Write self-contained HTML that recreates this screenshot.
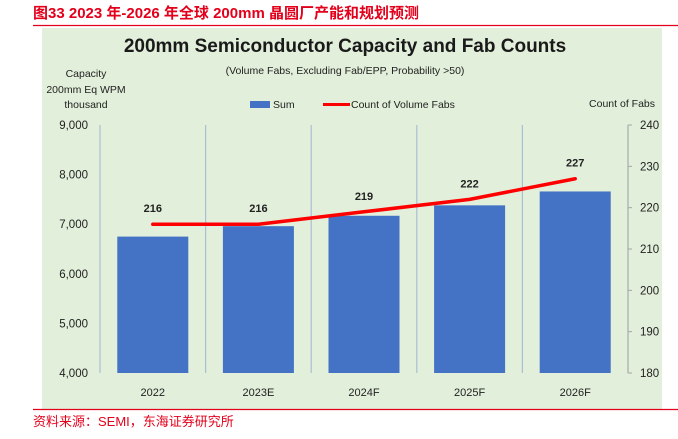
<!DOCTYPE html>
<html><head><meta charset="utf-8"><style>
body{margin:0;width:678px;height:434px;background:#fff;overflow:hidden;font-family:"Liberation Sans","Noto Sans CJK SC",sans-serif}
</style></head><body>
<svg width="678" height="434" xmlns="http://www.w3.org/2000/svg" font-family="Liberation Sans, Noto Sans CJK SC, sans-serif">
<text x="33" y="18" font-size="15" font-weight="bold" fill="#e3001b">图33  2023 年-2026 年全球 200mm 晶圆厂产能和规划预测</text>
<line x1="33" y1="25.5" x2="678" y2="25.5" stroke="#e3001b" stroke-width="1.2"/>
<rect x="42" y="28" width="620" height="381" fill="#e2efda"/>
<line x1="33" y1="409.5" x2="678" y2="409.5" stroke="#e3001b" stroke-width="1.2"/>
<text x="33" y="426" font-size="13" fill="#e3001b">资料来源：SEMI，东海证券研究所</text>
<text x="345" y="52" text-anchor="middle" font-size="19" font-weight="bold" fill="#1a1a1a">200mm Semiconductor Capacity and Fab Counts</text>
<text x="345" y="74" text-anchor="middle" font-size="10.5" fill="#222">(Volume Fabs, Excluding Fab/EPP, Probability &gt;50)</text>
<g font-size="10.5" fill="#222" text-anchor="middle">
<text x="86" y="77">Capacity</text><text x="86" y="93">200mm Eq WPM</text><text x="86" y="108">thousand</text></g>
<text x="655" y="107" text-anchor="end" font-size="10.5" fill="#222">Count of Fabs</text>
<g>
<rect x="250" y="101" width="20" height="7" fill="#4472c4"/>
<text x="273" y="108" font-size="10.5" fill="#222">Sum</text>
<line x1="323" y1="104.5" x2="350" y2="104.5" stroke="#ff0000" stroke-width="3"/>
<text x="351" y="108" font-size="10.5" fill="#222">Count of Volume Fabs</text>
</g>
<g id="plot"></g>
</svg>
<script>
const categories=["2022","2023E","2024F","2025F","2026F"];
const capacity=[6750,6960,7170,7380,7660];
const fabCounts=[216,216,219,222,227];
const leftTicks=[4000,5000,6000,7000,8000,9000];
const rightTicks=[180,190,200,210,220,230,240];
const NS="http://www.w3.org/2000/svg";
const g=document.getElementById('plot');
const X0=100,X1=628,YT=125,YB=373;
const bw=(X1-X0)/categories.length;
const yL=v=>YB-(v-4000)/5000*(YB-YT);
const yR=v=>YB-(v-180)/60*(YB-YT);
const xc=i=>X0+bw*(i+0.5);
function mk(t,a){const e=document.createElementNS(NS,t);for(const k in a)e.setAttribute(k,a[k]);g.appendChild(e);return e;}
for(let i=0;i<=categories.length;i++){
 const d=mk('line',{x1:X0+bw*i,x2:X0+bw*i,y1:YT,y2:YB,stroke:'#a9bfd6','stroke-width':1.2});
 
 
}
const ra=mk('line',{x1:X1,x2:X1,y1:YT,y2:YB,stroke:'#a6a6a6','stroke-width':1});


leftTicks.forEach(v=>{
 const t=mk('text',{x:88,y:yL(v)+4,'text-anchor':'end','font-size':11.5,fill:'#222'});t.textContent=v.toLocaleString('en-US');
 
 
});
rightTicks.forEach(v=>{
 const k=mk('line',{x1:X1,x2:X1+4,y1:yR(v),y2:yR(v),stroke:'#a6a6a6'});
 
 
 const t=mk('text',{x:640,y:yR(v)+4,'font-size':11.5,fill:'#222'});t.textContent=v;
 
 
});
categories.forEach((c,i)=>{
 const b=mk('rect',{x:xc(i)-35.5,y:yL(capacity[i]),width:71,height:YB-yL(capacity[i]),fill:'#4472c4'});
 
 
 const t=mk('text',{x:xc(i),y:396,'text-anchor':'middle','font-size':11,fill:'#222'});t.textContent=c;
 
 
});
const pl=mk('polyline',{points:fabCounts.map((v,i)=>xc(i)+','+yR(v)).join(' '),fill:'none',stroke:'#ff0000','stroke-width':3.5,'stroke-linejoin':'round','stroke-linecap':'round'});


fabCounts.forEach((v,i)=>{
 const t=mk('text',{x:xc(i),y:yR(v)-12,'text-anchor':'middle','font-size':11,'font-weight':'bold',fill:'#222'});t.textContent=v;
 
 
});
</script>
</body></html>
